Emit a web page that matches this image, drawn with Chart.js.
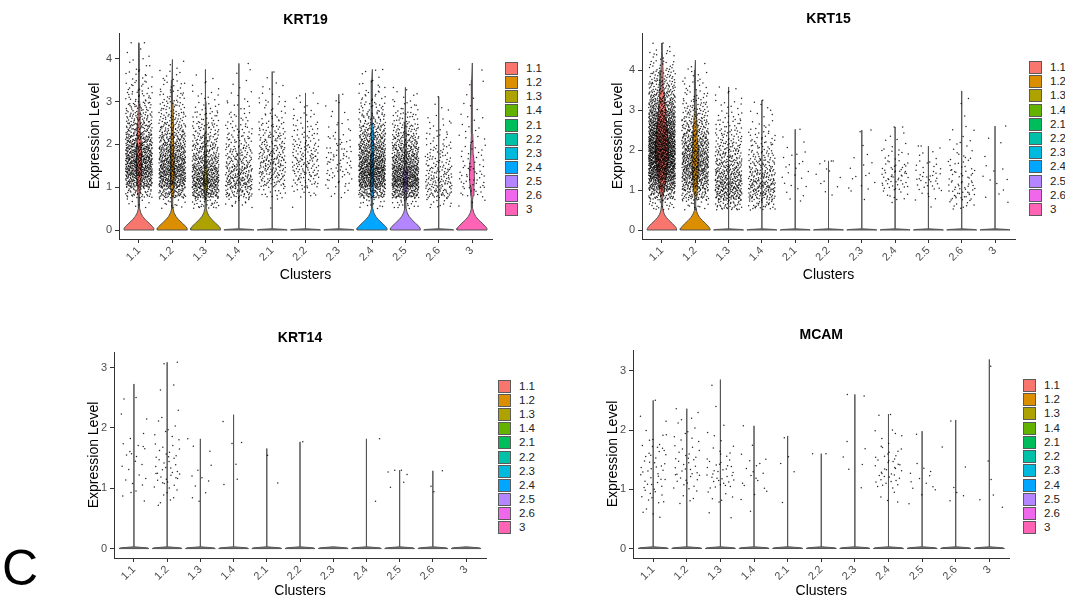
<!DOCTYPE html>
<html>
<head>
<meta charset="utf-8">
<script src="https://cdn.jsdelivr.net/npm/chart.js@4.4.1/dist/chart.umd.min.js"></script>
<style>
html,body{margin:0;padding:0;background:#fff;width:1065px;height:601px;overflow:hidden;position:relative;font-family:"Liberation Sans",Arial,sans-serif;}
canvas{position:absolute;}
.legend{position:absolute;}
.legend .item{position:absolute;left:0;width:60px;height:14px;}
.legend .box{position:absolute;left:0;top:0;width:11px;height:11px;border:1px solid #5a5a5a;}
.legend .lab{position:absolute;left:21px;top:-1px;font-size:11.5px;line-height:14px;color:#222;white-space:nowrap;}
#panelLetter{position:absolute;left:2px;top:543px;font-size:50px;line-height:50px;color:#000;}
</style>
</head>
<body>
<div id="panelLetter">C</div>
<script>
// ---------- data ----------
const clusters = ['1.1','1.2','1.3','1.4','2.1','2.2','2.3','2.4','2.5','2.6','3'];
const clusterColors = ['#F8766D','#DB8E00','#AEA200','#64B200','#00BD5C','#00C1A7','#00BADE','#00A6FF','#B385FF','#EF67EB','#FF63B6'];

// jitter-point histograms: counts per 0.25-wide expression bin starting at 0.5
const binStart = 0.5, binWidth = 0.25;

const krt19Max = [4.37,3.98,3.75,3.89,3.7,3.2,3.17,3.75,3.33,3.11,3.9];
const krt19Counts = [
  [8,45,110,150,150,120,90,60,45,32,22,15,10,6,3,2],
  [15,70,125,140,120,95,70,50,35,25,18,12,7,3],
  [30,95,130,110,80,55,40,28,20,12,8,4,2],
  [14,50,75,62,45,35,25,18,12,8,5,3,2,1],
  [2,15,35,45,50,40,30,22,15,10,6,4,2],
  [1,10,25,32,35,28,20,14,10,6,3],
  [0,6,12,16,18,14,10,6,4,3,2],
  [15,80,150,170,140,110,80,55,35,22,14,8,4,1],
  [20,100,170,150,110,80,55,35,22,12,6,2],
  [12,42,45,35,25,18,12,8,5,3,1],
  [3,12,16,14,10,8,6,5,4,3,2,2,1,1]
];
const krt15Max = [4.68,4.25,3.58,3.25,2.52,1.73,2.5,2.58,2.1,3.48,2.6];
const krt15Counts = [
  [20,60,120,170,200,210,200,180,150,120,90,65,45,30,18,10,4],
  [15,50,80,100,110,100,85,65,50,35,25,15,10,6,3],
  [40,80,90,75,60,45,35,25,18,12,8,4,2],
  [30,55,65,50,38,28,20,14,8,5,3,1],
  [1,3,4,5,5,4,2,1,1],
  [0,2,3,3,3,2],
  [0,2,4,4,3,2,1,1,1],
  [1,8,18,20,14,8,5,3,1,1],
  [1,6,12,14,8,4,2,1],
  [10,20,18,14,10,7,5,3,2,1,1,1],
  [1,2,3,3,2,1,1,1,1]
];
const krt14Max = [2.73,3.09,1.82,2.22,1.66,1.77,0,1.82,1.3,1.29,0];
const krt14Counts = [
  [0,4,5,4,8,2,2,1,1],
  [1,6,14,12,10,5,3,1,2,0,2],
  [0,3,4,2,2,1],
  [0,0,2,1,1,1,1],
  [0,0,1,0,1],
  [0,0,0,0,0,1],
  [],
  [0,1,0,0,0,1],
  [0,0,3,3],
  [0,1,1,1],
  []
];
const mcamMax = [2.5,2.36,2.85,2.07,1.9,1.6,2.6,2.27,1.98,2.17,3.19];
const mcamCounts = [
  [4,9,12,12,11,6,2,0,1],
  [0,5,12,12,10,6,4,2],
  [2,6,16,14,7,3,1,1,0,1],
  [1,3,6,6,3,0,1],
  [0,1,0,2,1,1],
  [0,0,0,0,2],
  [0,0,1,2,2,1,0,0,2],
  [0,4,14,15,10,5,2,1],
  [0,3,6,4,0,1],
  [0,3,1,1,1,0,1],
  [1,2,1,1,0,0,0,0,0,0,1]
];

// violin density profiles: relative half-width at each expression level (null = zero-dominated, flat)
const violinLevels = [0,0.04,0.08,0.16,0.24,0.32,0.4,0.5,0.6,0.7,0.8,1.0,1.25,1.5,1.75,2.0,2.25,2.5,3.0,3.5,4.0,4.5];
const flatLevels = [0,0.012,0.03];
const flatWidths = [1,0.9,0];
const krt19Widths = [
  [1,.99,.91,.67,.43,.24,.12,.05,.03,.03,.05,.11,.15,.17,.16,.14,.11,.08,.05,.03,.01,0],
  [1,.99,.91,.67,.43,.24,.12,.05,.03,.03,.05,.10,.13,.13,.11,.09,.07,.06,.04,.02,.01,0],
  [1,.99,.91,.67,.43,.24,.12,.05,.03,.04,.07,.11,.11,.08,.06,.05,.04,.03,.02,.01,0,0],
  null,null,null,null,
  [1,.99,.91,.67,.43,.24,.12,.05,.03,.04,.07,.10,.11,.10,.08,.07,.06,.05,.03,.02,0,0],
  [1,.99,.91,.67,.43,.24,.12,.05,.03,.05,.08,.11,.12,.09,.07,.05,.04,.03,.02,.01,0,0],
  null,
  [1,.99,.91,.67,.43,.24,.12,.05,.03,.04,.07,.13,.17,.15,.10,.07,.05,.04,.03,.02,.01,0]
];
const krt15Widths = [
  [1,.97,.9,.7,.47,.28,.15,.07,.035,.03,.06,.16,.25,.33,.4,.43,.41,.36,.23,.13,.07,.02],
  [1,.97,.9,.7,.47,.28,.15,.07,.035,.03,.05,.11,.16,.2,.22,.19,.15,.12,.07,.04,.02,0],
  null,null,null,null,null,null,null,null,null
];
const krt14Widths = [null,null,null,null,null,null,null,null,null,null,null];
const mcamWidths = [null,null,null,null,null,null,null,null,null,null,null];

const krt19Ticks = [0,1,2,3,4];
const krt15Ticks = [0,1,2,3,4];
const krt14Ticks = [0,1,2,3];
const mcamTicks = [0,1,2,3];

// ---------- rendering ----------
const FONT = '"Liberation Sans", Arial, sans-serif';
const HALF = 0.45;      // violin half-width (category units)
const JIT = 0.4;        // jitter half-width
function radicalInverse(k, base) {
  let f = 1, r = 0;
  while (k > 0) { f /= base; r += f * (k % base); k = Math.floor(k / base); }
  return r;
}

function buildPanel(p) {
  const canvas = document.createElement('canvas');
  canvas.width = p.w; canvas.height = p.h;
  canvas.style.left = p.x + 'px'; canvas.style.top = p.y + 'px';
  canvas.style.width = p.w + 'px'; canvas.style.height = p.h + 'px';
  document.body.appendChild(canvas);

  // jittered cells: each bin's count spread evenly over the bin (Halton layout, like a jitter)
  const pts = [];
  p.counts.forEach((row, ci) => {
    const cx = ci + 1;
    row.forEach((n, bi) => {
      const lo = binStart + bi * binWidth;
      const k0 = ci * 211 + bi * 37 + 1;
      for (let j = 0; j < n; j++) {
        const fx = radicalInverse(k0 + j, 2);
        const fy = radicalInverse(k0 + j, 3);
        pts.push({x: cx + JIT * (2 * fx - 1), y: Math.min(lo + binWidth * fy, p.max[ci])});
      }
    });
  });

  const datasets = [{
    type: 'scatter', data: pts, order: 0,
    pointRadius: 0.75, pointBackgroundColor: 'rgba(0,0,0,0.85)', pointBorderWidth: 0, pointHoverRadius: 0
  }];

  clusters.forEach((c, ci) => {
    const cx = ci + 1, m = p.max[ci];
    const prof = p.widths[ci];
    const lv = prof ? violinLevels : flatLevels;
    const wd = prof ? prof : flatWidths;
    const right = [], left = [];
    for (let i = 0; i < lv.length; i++) {
      if (i > 0 && lv[i] >= m && m > 0) break;
      right.push({x: cx + HALF * wd[i], y: lv[i]});
      left.unshift({x: cx - HALF * wd[i], y: lv[i]});
    }
    const poly = right.concat(m > 0 ? [{x: cx, y: m}] : [], left, [right[0]]);
    datasets.push({
      type: 'line', data: poly, order: 1,
      borderColor: '#555', borderWidth: 1, backgroundColor: prof ? clusterColors[ci] : '#777',
      fill: 'shape', pointRadius: 0, tension: 0
    });
  });

  const lh = 14 * 1.2;
  new Chart(canvas, {
    type: 'scatter',
    data: {datasets},
    options: {
      responsive: false, animation: false, events: [],
      layout: {padding: {left: 0, top: 0, bottom: 0, right: p.x + p.w - p.areaR}},
      plugins: {
        legend: {display: false}, tooltip: {enabled: false},
        title: {
          display: true, text: p.title, fullSize: false, color: '#000',
          font: {family: FONT, size: 14, weight: 'bold'},
          padding: {top: p.titleY - p.y - lh / 2, bottom: p.areaT - p.titleY - lh / 2}
        }
      },
      scales: {
        x: {
          type: 'linear', min: 0.4, max: 11.6,
          afterBuildTicks: s => { s.ticks = clusters.map((c, i) => ({value: i + 1})); },
          afterFit: s => { s.height = p.y + p.h - p.areaB; },
          ticks: {
            callback: v => clusters[Math.round(v) - 1], autoSkip: false,
            maxRotation: 45, minRotation: 45, padding: 1,
            font: {family: FONT, size: 11}, color: '#4d4d4d'
          },
          grid: {display: true, drawOnChartArea: false, drawTicks: true, tickLength: 4, color: '#333', lineWidth: 1},
          border: {display: true, color: '#333', width: 1},
          title: {display: true, text: 'Clusters', color: '#000', font: {family: FONT, size: 14},
                  padding: {top: 0, bottom: p.y + p.h - p.xTitleY - lh / 2}}
        },
        y: {
          type: 'linear', min: p.ymin, max: p.ymax,
          afterBuildTicks: s => { s.ticks = p.ticks.map(v => ({value: v})); },
          afterFit: s => { s.width = p.areaL - p.x; },
          ticks: {font: {family: FONT, size: 11}, color: '#4d4d4d', padding: 3},
          grid: {display: true, drawOnChartArea: false, drawTicks: true, tickLength: 4, color: '#333', lineWidth: 1},
          border: {display: true, color: '#333', width: 1},
          title: {display: true, text: 'Expression Level', color: '#000', font: {family: FONT, size: 14},
                  padding: {top: p.yTitleX - p.x - lh / 2, bottom: 0}}
        }
      }
    }
  });

  // legend
  const lg = document.createElement('div');
  lg.className = 'legend';
  lg.style.left = p.legX + 'px'; lg.style.top = p.legY + 'px';
  clusters.forEach((c, i) => {
    const it = document.createElement('div');
    it.className = 'item';
    it.style.top = (i * p.legStep) + 'px';
    it.innerHTML = '<div class="box" style="background:' + clusterColors[i] + '"></div><div class="lab">' + c + '</div>';
    lg.appendChild(it);
  });
  document.body.appendChild(lg);
}

buildPanel({title: 'KRT19', x: 0, y: 0, w: 500, h: 300, areaL: 119, areaR: 492, areaT: 33, areaB: 239,
  titleY: 20, yTitleX: 95, xTitleY: 275, ymin: -0.21, ymax: 4.6, ticks: krt19Ticks,
  max: krt19Max, counts: krt19Counts, widths: krt19Widths, legX: 505, legY: 62, legStep: 14.13});
buildPanel({title: 'KRT15', x: 560, y: 0, w: 460, h: 300, areaL: 642, areaR: 1015, areaT: 33, areaB: 239,
  titleY: 19, yTitleX: 618, xTitleY: 275, ymin: -0.225, ymax: 4.93, ticks: krt15Ticks,
  max: krt15Max, counts: krt15Counts, widths: krt15Widths, legX: 1029, legY: 61, legStep: 14.2});
buildPanel({title: 'KRT14', x: 0, y: 300, w: 495, h: 301, areaL: 114, areaR: 486, areaT: 352, areaB: 558,
  titleY: 338, yTitleX: 94, xTitleY: 591, ymin: -0.156, ymax: 3.26, ticks: krt14Ticks,
  max: krt14Max, counts: krt14Counts, widths: krt14Widths, legX: 498, legY: 380, legStep: 14.1});
buildPanel({title: 'MCAM', x: 560, y: 300, w: 455, h: 301, areaL: 633, areaR: 1009.5, areaT: 350, areaB: 558,
  titleY: 335, yTitleX: 613, xTitleY: 591.5, ymin: -0.16, ymax: 3.35, ticks: mcamTicks,
  max: mcamMax, counts: mcamCounts, widths: mcamWidths, legX: 1023, legY: 379, legStep: 14.24});
</script>
</body>
</html>
